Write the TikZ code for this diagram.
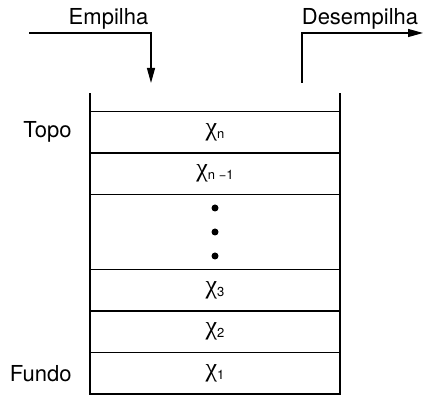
\documentclass[tikz,border=0pt]{standalone}
\usepackage{fontspec}
\setmainfont{TeX Gyre Heros}
\newfontfamily\chifont{Liberation Serif}
\usetikzlibrary{positioning, arrows.meta}

\tikzset{
  cell/.style={draw, line width=1.2pt, minimum width=250pt, minimum height=41.5pt,
    inner sep=0pt, outer sep=0pt},
  flow/.style={line width=1.2pt, -{Triangle[length=15pt, width=8pt]}},
}
\newcommand{\elem}[1]{{\chifont\fontsize{26}{26}\selectfont χ}\raisebox{-3pt}{\fontsize{13}{13}\selectfont #1}}

\begin{document}
\begin{tikzpicture}[x=1pt, y=1pt, font=\fontsize{22}{26}\selectfont]
    \useasboundingbox (0,0) rectangle (429,395);

    % Stack cells, top to bottom
    \node[cell, anchor=north] (xn) at (215,283.5) {\elem{n}};
    \node[cell, below=0pt of xn] (xn1) {\elem{n −1}};
    \node[cell, below=0pt of xn1, minimum height=75pt] (dots) {};
    \node[cell, below=0pt of dots] (x3) {\elem{3}};
    \node[cell, below=0pt of x3] (x2) {\elem{2}};
    \node[cell, below=0pt of x2] (x1) {\elem{1}};

    % Open top of the stack
    \draw[line width=1.2pt] (xn.north west) -- ++(0,18.5);
    \draw[line width=1.2pt] (xn.north east) -- ++(0,18.5);

    % Dots for the elements in between
    \foreach \dy in {24, 0, -24} {
      \fill (dots.center) ++(0,\dy) circle (3.5);
    }

    % Side labels
    \node[left=15pt of xn.west] (topo) {Topo};
    \node[left=15pt of x1.west] (fundo) {Fundo};

    % Push and pop arrows
    \coordinate (pushin) at (29,362);
    \coordinate (pushturn) at (151,362);
    \coordinate (pushend) at (151,312);
    \coordinate (popin) at (302,312);
    \coordinate (popturn) at (302,362);
    \coordinate (popend) at (423,362);
    \draw[flow] (pushin) -- (pushturn) -- (pushend);
    \draw[flow] (popin) -- (popturn) -- (popend);
    \node[anchor=base] (push) at (108.5,370) {Empilha};
    \node[anchor=base] (pop) at (360,370) {Desempilha};
\end{tikzpicture}
\end{document}
